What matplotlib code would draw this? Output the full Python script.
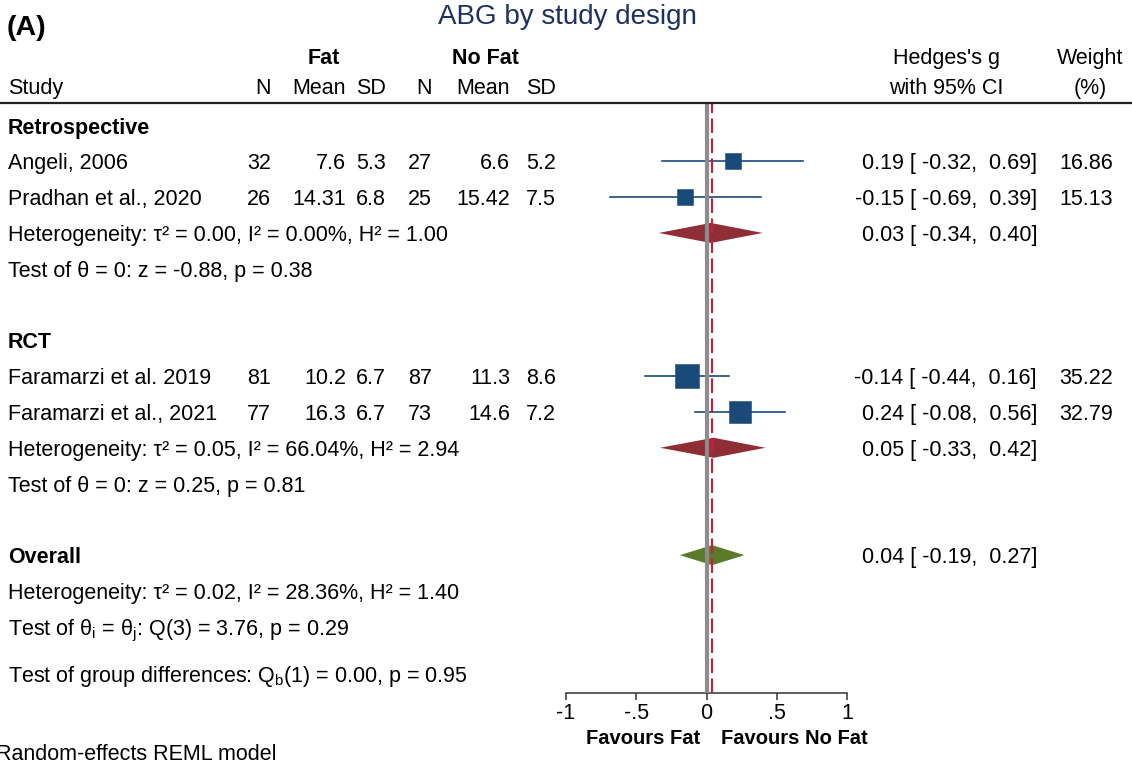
import numpy as np
import matplotlib.pyplot as plt
from matplotlib.transforms import blended_transform_factory
from matplotlib.lines import Line2D

plt.rcParams['font.family'] = ['Liberation Sans', 'DejaVu Sans']
plt.rcParams['mathtext.fontset'] = 'custom'
plt.rcParams['mathtext.rm'] = 'Liberation Sans'
plt.rcParams['mathtext.it'] = 'Liberation Sans:italic'
plt.rcParams['mathtext.bf'] = 'Liberation Sans:bold'

# donnees des etudes
study = ["Angeli, 2006", "Pradhan et al., 2020", "Faramarzi et al. 2019", "Faramarzi et al., 2021"]
design = ["Retrospective", "Retrospective", "RCT", "RCT"]
n_fat = [32, 26, 81, 77]
mean_fat = [7.6, 14.31, 10.2, 16.3]
sd_fat = [5.3, 6.8, 6.7, 6.7]
n_nofat = [27, 25, 87, 73]
mean_nofat = [6.6, 15.42, 11.3, 14.6]
sd_nofat = [5.2, 7.5, 8.6, 7.2]
g = [0.19, -0.15, -0.14, 0.24]
g_lo = [-0.32, -0.69, -0.44, -0.08]
g_hi = [0.69, 0.39, 0.16, 0.56]
weight = [16.86, 15.13, 35.22, 32.79]

# sous-groupes
groups = ["Retrospective", "RCT"]
sub_g = [0.03, 0.05]
sub_lo = [-0.34, -0.33]
sub_hi = [0.40, 0.42]
sub_tau2 = [0.00, 0.05]
sub_i2 = [0.00, 66.04]
sub_h2 = [1.00, 2.94]
sub_z = [-0.88, 0.25]
sub_p = [0.38, 0.81]

# global
all_g, all_lo, all_hi = 0.04, -0.19, 0.27
all_tau2, all_i2, all_h2 = 0.02, 28.36, 1.40
q_df, q_val, q_p = 3, 3.76, 0.29
qb_df, qb_val, qb_p = 1, 0.00, 0.95

xticks = [-1, -0.5, 0, 0.5, 1]
xticklabels = ["-1", "-.5", "0", ".5", "1"]

navy = '#1b4a78'
red_d = '#902e38'
green_d = '#5b7b2b'
FS = 15.5

W, H = 1132, 762
fig = plt.figure(figsize=(W / 100, H / 100), dpi=100)

def fx(px):
    return px / W

def fy(py):
    return 1 - py / H

ax = fig.add_axes([fx(566), fy(693), 281 / W, (693 - 103) / H])
ax.set_xlim(-1, 1)
ax.set_ylim(15.85, -0.63)
tr = blended_transform_factory(fig.transFigure, ax.transData)

def txt(px, y, s, ha='left', **kw):
    ax.text(fx(px), y, s, transform=tr, ha=ha, va='center_baseline', fontsize=FS, **kw)

def ci_text(y, es, lo, hi):
    txt(1037, y, f"{es:.2f} [ {lo:.2f},  {hi:.2f}]", ha='right')

dh = 0.28
y = 0
for k, grp in enumerate(groups):
    txt(8, y, grp, fontweight='bold')
    y += 1
    for i in range(len(study)):
        if design[i] != grp:
            continue
        ax.plot([g_lo[i], g_hi[i]], [y, y], color=navy, lw=1.2, zorder=2)
        ax.plot(g[i], y, 's', ms=2.85 * np.sqrt(weight[i]), color=navy, mec=navy, mew=0.4, zorder=2.5)
        txt(8, y, study[i])
        txt(271, y, f"{n_fat[i]}", ha='right')
        txt(346, y, f"{mean_fat[i]:g}", ha='right')
        txt(386, y, f"{sd_fat[i]:g}", ha='right')
        txt(432, y, f"{n_nofat[i]}", ha='right')
        txt(510, y, f"{mean_nofat[i]:g}", ha='right')
        txt(556, y, f"{sd_nofat[i]:g}", ha='right')
        ci_text(y, g[i], g_lo[i], g_hi[i])
        txt(1113, y, f"{weight[i]:.2f}", ha='right')
        y += 1
    ax.fill([sub_lo[k], sub_g[k], sub_hi[k], sub_g[k]], [y, y - dh, y, y + dh],
            color=red_d, lw=0, zorder=1.5)
    txt(8, y, f"Heterogeneity: τ² = {sub_tau2[k]:.2f}, I² = {sub_i2[k]:.2f}%, H² = {sub_h2[k]:.2f}")
    ci_text(y, sub_g[k], sub_lo[k], sub_hi[k])
    y += 1
    txt(8, y, f"Test of θ = 0: z = {sub_z[k]:.2f}, p = {sub_p[k]:.2f}")
    y += 2

# global
ax.fill([all_lo, all_g, all_hi, all_g], [y, y - dh, y, y + dh], color=green_d, lw=0, zorder=1.5)
txt(8, y, "Overall", fontweight='bold')
ci_text(y, all_g, all_lo, all_hi)
txt(8, y + 1, f"Heterogeneity: τ² = {all_tau2:.2f}, I² = {all_i2:.2f}%, H² = {all_h2:.2f}")
txt(8, y + 2, r"Test of θ$_\mathrm{i}$ = θ$_\mathrm{j}$: " + f"Q({q_df}) = {q_val:.2f}, p = {q_p:.2f}")
txt(8, y + 3.3, r"Test of group differences: Q$_\mathrm{b}$" + f"({qb_df}) = {qb_val:.2f}, p = {qb_p:.2f}")

# lignes verticales
ax.axvline(0, color='#8c8c8c', lw=3, zorder=3)
ax.axvline(all_g, color='#d8173f', lw=1.5, dashes=(7, 2.6), zorder=4)

ax.set_xticks(xticks)
ax.set_xticklabels(xticklabels, fontsize=FS)
ax.tick_params(axis='x', length=5, width=1.1, color='#333333', pad=2)
ax.set_yticks([])
for s in ['left', 'right', 'top']:
    ax.spines[s].set_visible(False)
ax.spines['bottom'].set_color('#333333')
ax.spines['bottom'].set_linewidth(1.1)
ax.patch.set_alpha(0)

# en-tetes
fig.text(fx(567), fy(17), "ABG by study design", ha='center', va='center', fontsize=20, color='#1c3160')
fig.text(fx(7), fy(28), "(A)", ha='left', va='center', fontsize=20.5, fontweight='bold')
fig.text(fx(324), fy(56), "Fat", ha='center', va='center_baseline', fontsize=FS, fontweight='bold')
fig.text(fx(485), fy(56), "No Fat", ha='center', va='center_baseline', fontsize=FS, fontweight='bold')
fig.text(fx(946), fy(56), "Hedges's g", ha='center', va='center_baseline', fontsize=FS)
fig.text(fx(1090), fy(56), "Weight", ha='center', va='center_baseline', fontsize=FS)
fig.text(fx(8), fy(86), "Study", ha='left', va='center_baseline', fontsize=FS)
for px, lab in zip([271, 346, 386, 432, 510, 556], ["N", "Mean", "SD", "N", "Mean", "SD"]):
    fig.text(fx(px), fy(86), lab, ha='right', va='center_baseline', fontsize=FS)
fig.text(fx(946), fy(86), "with 95% CI", ha='center', va='center_baseline', fontsize=FS)
fig.text(fx(1090), fy(86), "(%)", ha='center', va='center_baseline', fontsize=FS)
fig.add_artist(Line2D([0, 1], [fy(103), fy(103)], color='#222222', lw=1.6, transform=fig.transFigure))

fig.text(fx(700), fy(736), "Favours Fat", ha='right', va='center_baseline', fontsize=14.5, fontweight='bold')
fig.text(fx(721), fy(736), "Favours No Fat", ha='left', va='center_baseline', fontsize=14.5, fontweight='bold')
fig.text(fx(-4), fy(752), "Random-effects REML model", ha='left', va='center_baseline', fontsize=FS)

fig.savefig("out.png", dpi=100)
